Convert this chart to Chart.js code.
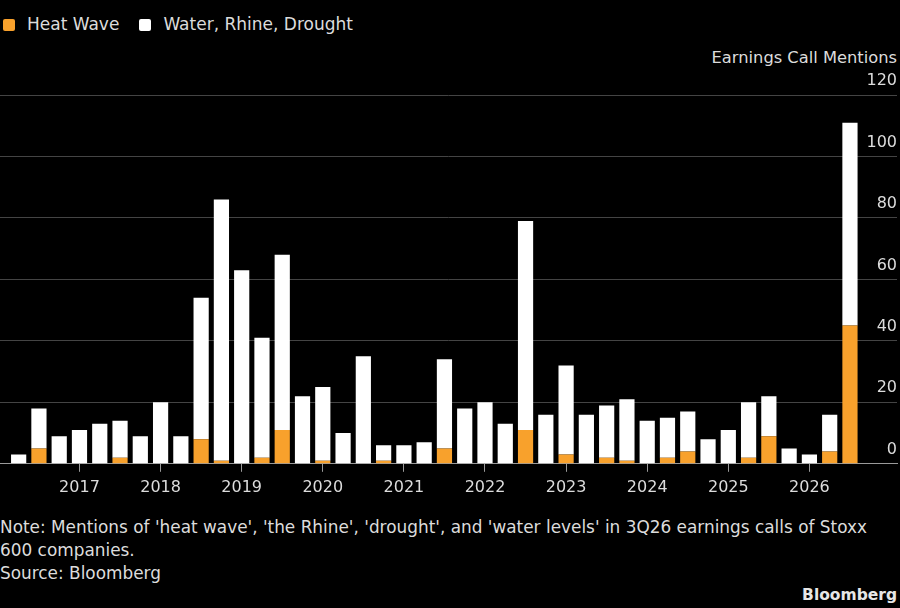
<!DOCTYPE html>
<html>
<head>
<meta charset="utf-8">
<script src="https://cdn.jsdelivr.net/npm/chart.js@4/dist/chart.umd.min.js"></script>
<style>
  html, body { margin: 0; padding: 0; background: #000; }
  body { width: 900px; height: 608px; position: relative; overflow: hidden;
         font-family: "DejaVu Sans", sans-serif; color: #dcdcdc; font-size: 16px; }
  #legend { position: absolute; left: 3px; top: 14px; line-height: 20px; white-space: nowrap; font-size: 17px; }
  #legend span.item { display: inline-block; margin-right: 20px; }
  #legend i { display: inline-block; width: 12px; height: 12px; border-radius: 2px;
              vertical-align: -1px; margin-right: 12px; }
  #caption { position: absolute; right: 3px; top: 48px; line-height: 20px; font-size: 16.3px; }
  #wrap { position: absolute; left: 0; top: 0; width: 900px; height: 507px; }
  #note { position: absolute; left: 0; top: 516px; width: 885px; line-height: 23px; font-size: 16.9px; }
  #brand { position: absolute; right: 3px; top: 585px; font-weight: bold; font-size: 15.5px;
           line-height: 20px; color: #e6e6e6; }
</style>
</head>
<body>
<div id="legend"></div>
<div id="caption">Earnings Call Mentions</div>
<div id="wrap"><canvas id="chart"></canvas></div>
<div id="note">Note: Mentions of 'heat wave', 'the Rhine', 'drought', and 'water levels' in 3Q26 earnings calls of Stoxx 600 companies.<br>Source: Bloomberg</div>
<div id="brand">Bloomberg</div>
<script>
const quarters = [
  "2Q16", "3Q16", "4Q16",
  "1Q17", "2Q17", "3Q17", "4Q17",
  "1Q18", "2Q18", "3Q18", "4Q18",
  "1Q19", "2Q19", "3Q19", "4Q19",
  "1Q20", "2Q20", "3Q20", "4Q20",
  "1Q21", "2Q21", "3Q21", "4Q21",
  "1Q22", "2Q22", "3Q22", "4Q22",
  "1Q23", "2Q23", "3Q23", "4Q23",
  "1Q24", "2Q24", "3Q24", "4Q24",
  "1Q25", "2Q25", "3Q25", "4Q25",
  "1Q26", "2Q26", "3Q26",
];

const heatWave = [
  0, 5, 0,
  0, 0, 2, 0,
  0, 0, 8, 1,
  0, 2, 11, 0,
  1, 0, 0, 1,
  0, 0, 5, 0,
  0, 0, 11, 0,
  3, 0, 2, 1,
  0, 2, 4, 0,
  0, 2, 9, 0,
  0, 4, 45,
];

const waterRhineDrought = [
  3, 13, 9,
  11, 13, 12, 9,
  20, 9, 46, 85,
  63, 39, 57, 22,
  24, 10, 35, 5,
  6, 7, 29, 18,
  20, 13, 68, 16,
  29, 16, 17, 20,
  14, 13, 13, 8,
  11, 18, 13, 5,
  3, 12, 66,
];

const yearTicks = [2017, 2018, 2019, 2020, 2021, 2022, 2023, 2024, 2025, 2026];

const ORANGE = "#f8a12c";
const WHITE = "#ffffff";
const TEXT = "#dcdcdc";

// "2Q16" -> 2016.25, "1Q17" -> 2017.0
const quarterToX = (q) => 2000 + Number(q.slice(2)) + (Number(q[0]) - 1) / 4;

const series = [
  { label: "Heat Wave", values: heatWave, color: ORANGE },
  { label: "Water, Rhine, Drought", values: waterRhineDrought, color: WHITE },
];

document.getElementById("legend").innerHTML = series
  .map(s => `<span class="item"><i style="background:${s.color}"></i>${s.label}</span>`)
  .join("");

const datasets = series.map(s => ({
  label: s.label,
  data: s.values.map((v, i) => ({ x: quarterToX(quarters[i]), y: v })),
  backgroundColor: s.color,
  borderWidth: 0,
  barPercentage: 0.75,
  categoryPercentage: 1,
}));

new Chart(document.getElementById("chart"), {
  type: "bar",
  data: { datasets },
  options: {
    responsive: true,
    maintainAspectRatio: false,
    animation: false,
    layout: { padding: { top: 95, left: 0, right: 3, bottom: 4 } },
    plugins: { legend: { display: false }, tooltip: { enabled: false } },
    scales: {
      x: {
        type: "linear",
        stacked: true,
        offset: false,
        min: 2016.02,
        max: 2027.08,
        afterBuildTicks: (scale) => { scale.ticks = yearTicks.map(v => ({ value: v })); },
        ticks: {
          color: TEXT,
          font: { family: "DejaVu Sans", size: 16 },
          padding: 6,
          maxRotation: 0,
          autoSkip: false,
          callback: (v) => String(v),
        },
        grid: { display: true, drawOnChartArea: false, drawTicks: true, tickLength: 8, color: "#9a9a9a", offset: false },
        border: { display: true, color: "#9a9a9a", width: 1 },
      },
      y: {
        position: "right",
        stacked: true,
        min: 0,
        max: 120,
        ticks: {
          stepSize: 20,
          mirror: true,
          padding: 0,
          labelOffset: -14,
          color: TEXT,
          font: { family: "DejaVu Sans", size: 16 },
        },
        grid: { color: "#444444", drawTicks: false },
        border: { display: false },
      },
    },
  },
});
</script>
</body>
</html>
